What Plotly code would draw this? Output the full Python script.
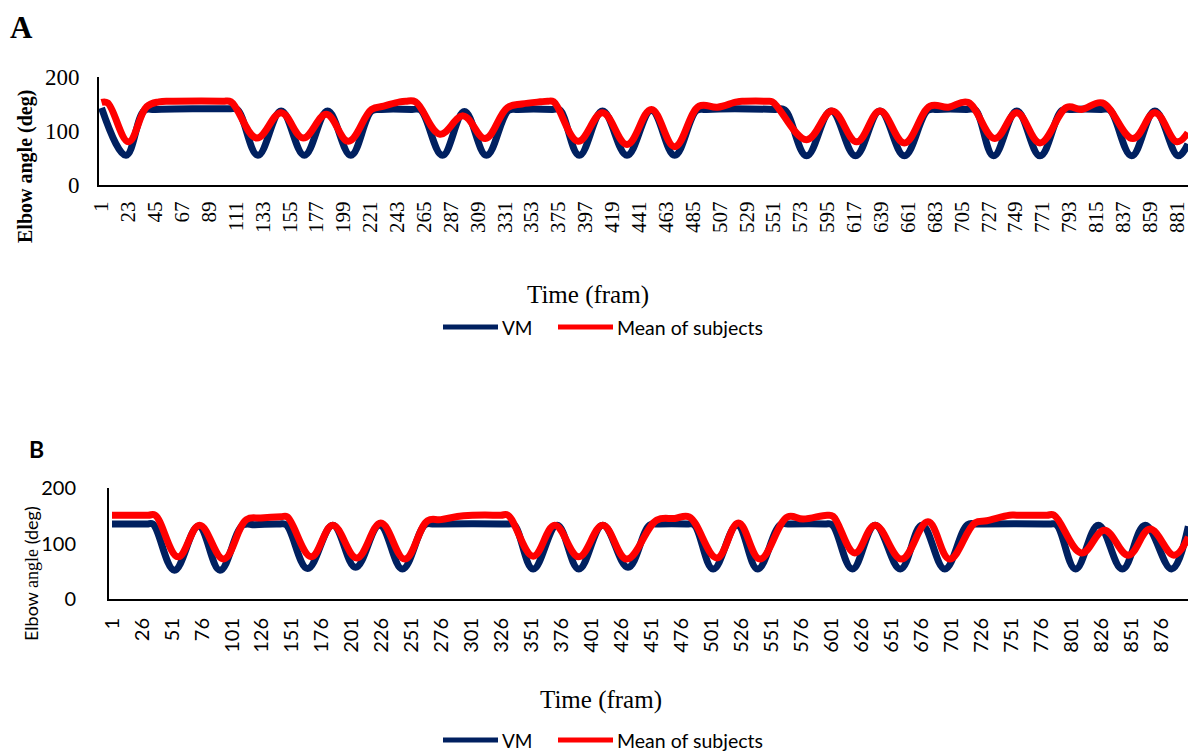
import plotly.graph_objects as go

W, H = 1188, 753

# ---------------- data (frame, elbow angle in deg) ----------------
# Panel A
a_vm_frames = [1, 21, 36, 45, 105, 112, 129, 148, 167, 186, 205, 222, 230, 255, 262, 280, 298, 316,
               334, 342, 370, 376, 392, 411, 431, 451, 470, 488, 496, 552, 560, 578, 598, 618, 638,
               658, 677, 685, 709, 716, 731, 750, 769, 787, 795, 819, 826, 844, 863, 882, 890]
a_vm_vals = [143, 55, 138, 140, 141, 140, 55, 137, 55, 137, 55, 137, 140, 140, 139, 55, 136, 55,
             138, 140, 140, 139, 55, 137, 55, 138, 55, 138, 140, 140, 139, 54, 137, 54, 137,
             54, 138, 140, 140, 139, 54, 137, 54, 138, 140, 140, 139, 54, 137, 54, 76]

a_mean_frames = [1, 6, 23, 38, 48, 60, 100, 107, 128, 148, 166, 185, 203, 222, 232, 245, 250, 258,
                 278, 297, 315, 333, 345, 360, 366, 371, 391, 411, 431, 451, 470, 490, 505, 521,
                 527, 545, 550, 578, 599, 619, 638, 658, 679, 694, 710, 732, 750, 769, 791, 803,
                 820, 845, 863, 881, 890]
a_mean_vals = [153, 152, 80, 145, 154, 155, 155, 154, 87, 134, 87, 131, 81, 140, 146, 154, 155, 154,
               94, 128, 86, 143, 150, 154, 155, 154, 81, 134, 75, 140, 71, 146, 144, 154,
               155, 155, 154, 84, 137, 80, 137, 78, 146, 144, 153, 86, 134, 78, 144, 140,
               152, 86, 134, 80, 97]

# Panel B
b_vm_frames = [1, 30, 35, 53, 73, 91, 110, 120, 140, 146, 164, 185, 204, 224, 243, 262, 270, 330,
               336, 352, 372, 390, 410, 431, 449, 457, 480, 486, 502, 522, 539, 558, 566, 595,
               601, 618, 637, 658, 676, 695, 714, 722, 782, 788, 804, 823, 843, 862, 884, 898]
b_vm_vals = [135, 135, 135, 52, 131, 52, 133, 134, 135, 134, 55, 133, 57, 133, 54, 134, 135, 135,
             134, 54, 133, 54, 133, 57, 133, 135, 135, 134, 54, 133, 54, 134, 135, 135,
             134, 54, 133, 54, 133, 54, 134, 135, 135, 134, 54, 133, 54, 133, 54, 131]

b_mean_frames = [1, 31, 37, 56, 74, 94, 113, 125, 142, 147, 167, 185, 205, 225, 245, 264, 275, 294,
                 325, 331, 352, 370, 390, 410, 430, 455, 470, 482, 505, 523, 541, 564, 577, 597,
                 602, 620, 637, 659, 681, 699, 720, 730, 749, 755, 780, 786, 809, 828, 848, 866,
                 886, 898]
b_mean_vals = [151, 151, 151, 76, 133, 72, 143, 146, 148, 148, 76, 133, 74, 137, 72, 141, 143, 150,
               151, 151, 77, 133, 76, 133, 72, 142, 145, 148, 74, 137, 72, 148, 144, 151,
               149, 83, 133, 72, 139, 72, 137, 141, 151, 151, 151, 151, 83, 124, 79, 126,
               79, 112]

a_ticks = list(range(1, 890, 22))
b_ticks = list(range(1, 898, 25))
y_ticks = [0, 100, 200]

VM_COLOR = "#002060"
MEAN_COLOR = "#FF0000"

def px_x(p):
    return p / W

def px_y(p):
    return 1 - p / H

fig = go.Figure()

for xs, ys, col, ax in [
    (a_vm_frames, a_vm_vals, VM_COLOR, ("x", "y")),
    (a_mean_frames, a_mean_vals, MEAN_COLOR, ("x", "y")),
    (b_vm_frames, b_vm_vals, VM_COLOR, ("x2", "y2")),
    (b_mean_frames, b_mean_vals, MEAN_COLOR, ("x2", "y2")),
]:
    fig.add_trace(go.Scatter(x=xs, y=ys, mode="lines", xaxis=ax[0], yaxis=ax[1],
                             line=dict(color=col, width=7, shape="spline", smoothing=1.1),
                             showlegend=False, hoverinfo="skip"))

serif = "Liberation Serif"
sans = "Lato"

common_x = dict(showgrid=False, zeroline=False, showline=True, linecolor="#000000", linewidth=2,
                tickmode="array", tickangle=-90, ticks="", automargin=False,
                ticklabeloverflow="allow")
common_y = dict(showgrid=False, zeroline=False, showline=True, linecolor="#000000", linewidth=2,
                tickmode="array", tickvals=y_ticks, ticktext=[str(v) for v in y_ticks], ticks="",
                range=[0, 200], fixedrange=True, automargin=False)

fig.update_layout(
    width=W, height=H, margin=dict(l=0, r=0, t=0, b=0, pad=0, autoexpand=False),
    paper_bgcolor="white", plot_bgcolor="white", showlegend=False,
    xaxis=dict(**common_x, domain=[px_x(99), 1], range=[-1.05, 890.1], anchor="y",
               tickvals=a_ticks, ticktext=[str(t) for t in a_ticks],
               tickfont=dict(family=serif, size=21, color="#000000"), ticklabelstandoff=6),
    yaxis=dict(**common_y, domain=[px_y(185), px_y(77)], anchor="x",
               tickfont=dict(family=serif, size=23, color="#000000"), ticklabelstandoff=13),
    xaxis2=dict(**common_x, domain=[px_x(109), 1], range=[-1.5, 897.7], anchor="y2",
                tickvals=b_ticks, ticktext=[str(t) for t in b_ticks],
                tickfont=dict(family=sans, size=20, color="#000000"), ticklabelstandoff=9),
    yaxis2=dict(**common_y, domain=[px_y(599), px_y(488)], anchor="x2",
                tickfont=dict(family=sans, size=20, color="#000000"), ticklabelstandoff=27),
)

ann = []
ann.append(dict(text="<b>A</b>", x=px_x(21), y=px_y(28), font=dict(family=serif, size=31, color="#000")))
ann.append(dict(text="<b>B</b>", x=px_x(36), y=px_y(449), font=dict(family=sans, size=23, color="#000")))
ann.append(dict(text="<b>Elbow angle (deg)</b>", x=px_x(25), y=px_y(167), textangle=-90,
                font=dict(family=serif, size=20, color="#000")))
ann.append(dict(text="Elbow <span style='font-family:Liberation Serif'>angle</span> (deg)",
                x=px_x(31), y=px_y(574), textangle=-90, font=dict(family=sans, size=18, color="#000")))
ann.append(dict(text="Time (fram)", x=px_x(588), y=px_y(295), font=dict(family=serif, size=25, color="#000")))
ann.append(dict(text="Time (fram)", x=px_x(601), y=px_y(700), font=dict(family=serif, size=25, color="#000")))

shapes = []
for ly in (327, 740):
    shapes.append(dict(type="line", xref="paper", yref="paper", x0=px_x(443), x1=px_x(498),
                       y0=px_y(ly), y1=px_y(ly), line=dict(color=VM_COLOR, width=5)))
    shapes.append(dict(type="line", xref="paper", yref="paper", x0=px_x(558), x1=px_x(613),
                       y0=px_y(ly), y1=px_y(ly), line=dict(color=MEAN_COLOR, width=5)))
    ann.append(dict(text="VM", x=px_x(500), y=px_y(ly), xanchor="left",
                    font=dict(family=sans, size=19, color="#000")))
    ann.append(dict(text="Mean of subjects", x=px_x(615), y=px_y(ly), xanchor="left",
                    font=dict(family=sans, size=19.5, color="#000")))

for a in ann:
    a.setdefault("xanchor", "center")
    a.update(xref="paper", yref="paper", yanchor="middle", showarrow=False)

fig.update_layout(annotations=ann, shapes=shapes)
fig.write_html("out.html")
